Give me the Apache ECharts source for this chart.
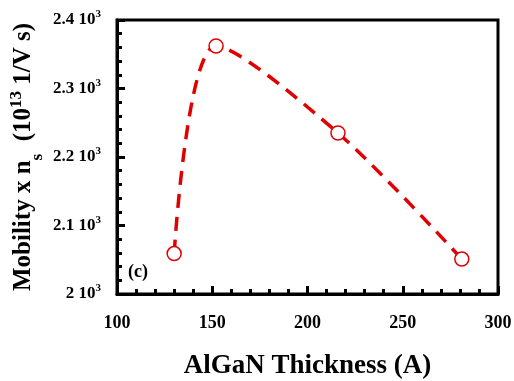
<!DOCTYPE html>
<html><head><meta charset="utf-8">
<script src="https://cdn.jsdelivr.net/npm/echarts@6/dist/echarts.min.js"></script>
<style>html,body{margin:0;padding:0;background:#fff}#c{width:514px;height:381px}</style>
</head><body><div id="c"></div>
<script>
var thickness = [130, 152, 216, 281];
var mobilityNs = [2.059, 2.362, 2.235, 2.051];
var xTicks = [100, 150, 200, 250, 300];
var yTicks = ['2', '2.1', '2.2', '2.3', '2.4'];

var F = '"Liberation Serif", "Times New Roman", serif';
var chart = echarts.init(document.getElementById('c'));
var data = thickness.map(function (x, i) { return [x, mobilityNs[i]]; });
chart.setOption({
  animation: false,
  grid: { left: 117, right: 16, top: 20, bottom: 87, show: true, borderColor: '#000', borderWidth: 3,
          containLabel: false, outerBoundsMode: 'none' },
  xAxis: {
    type: 'value', min: 100, max: 300, interval: 50,
    axisLine: { show: true, lineStyle: { color: '#000', width: 3 } },
    axisTick: { show: true, inside: true, length: 8, lineStyle: { color: '#000', width: 3 } },
    minorTick: { show: true, splitNumber: 5, length: 5, lineStyle: { color: '#000', width: 3 } },
    splitLine: { show: false },
    axisLabel: { margin: 20, color: '#000', fontFamily: F, fontWeight: 'bold', fontSize: 18,
      formatter: function (v) { return String(xTicks[Math.round((v - 100) / 50)]); } },
    name: 'AlGaN Thickness (A)', nameLocation: 'middle', nameGap: 59, nameMoveOverlap: false,
    nameTextStyle: { color: '#000', fontFamily: F, fontWeight: 'bold', fontSize: 27 }
  },
  yAxis: {
    type: 'value', min: 2.0, max: 2.4, interval: 0.1,
    axisLine: { show: true, lineStyle: { color: '#000', width: 3 } },
    axisTick: { show: true, inside: true, length: 8, lineStyle: { color: '#000', width: 3 } },
    minorTick: { show: true, splitNumber: 5, length: 5, lineStyle: { color: '#000', width: 3 } },
    splitLine: { show: false },
    axisLabel: {
      margin: 16, color: '#000', fontFamily: F, fontWeight: 'bold', fontSize: 17, lineHeight: 22,
      formatter: function (v) { var i = Math.round((v - 2) * 10); return yTicks[i] + ' 10{s|3}'; },
      rich: {
        s: { fontFamily: F, fontWeight: 'bold', fontSize: 11, color: '#000', lineHeight: 22, verticalAlign: 'top', padding: [0, 0, 8, 0] }
      }
    },
    name: 'Mobility x n{sub|s}  (10{sup|13} 1/V s)',
    nameLocation: 'middle', nameGap: 77, nameRotate: 90, nameMoveOverlap: false,
    nameTextStyle: {
      fontFamily: F, fontWeight: 'bold', fontSize: 25, color: '#000', lineHeight: 32,
      rich: {
        sub: { fontFamily: F, fontWeight: 'bold', fontSize: 17, color: '#000', lineHeight: 32, verticalAlign: 'bottom', padding: [0, 0, -6, 0] },
        sup: { fontFamily: F, fontWeight: 'bold', fontSize: 17, color: '#000', lineHeight: 32, verticalAlign: 'top' }
      }
    }
  },
  graphic: [{ type: 'text', left: 128, top: 263, style: { text: '(c)', font: 'bold 18px "Liberation Serif", serif', fill: '#000' } }],
  series: [{
    type: 'line', data: data, smooth: 0.3,
    symbol: 'circle', symbolSize: 14,
    itemStyle: { color: '#fff', borderColor: '#e00000', borderWidth: 1.5 },
    lineStyle: { color: '#e00000', width: 3.5, type: [14, 9] }
  }]
});
</script></body></html>
